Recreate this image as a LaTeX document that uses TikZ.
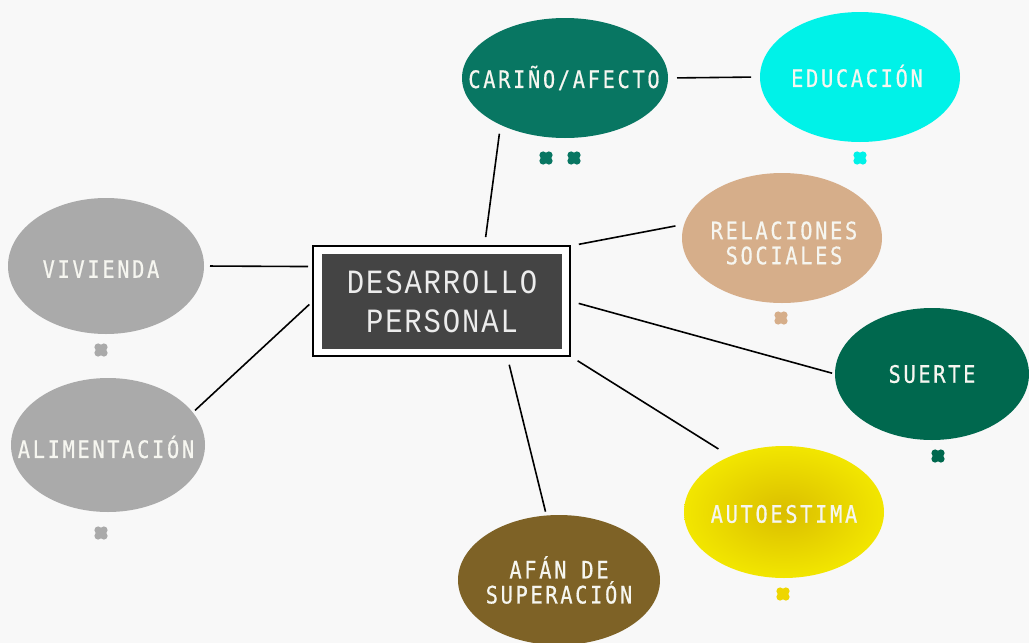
\documentclass[tikz,border=0pt]{standalone}
\usepackage{fontspec}
\usetikzlibrary{shapes.geometric}
\newfontfamily\lblfont[FakeStretch=0.85,LetterSpace=11,FakeBold=0.6]{DejaVu Sans Mono}
\newfontfamily\ctrfont[FakeStretch=0.85,LetterSpace=5.5]{Liberation Mono}
\definecolor{bg}{RGB}{248,248,248}
\definecolor{teal}{RGB}{8,118,98}
\definecolor{cyanb}{RGB}{0,242,232}
\definecolor{tan}{RGB}{214,174,138}
\definecolor{dgreen}{RGB}{0,104,78}
\definecolor{ylw}{RGB}{242,230,0}
\definecolor{ylwdark}{RGB}{218,190,0}
\definecolor{olive}{RGB}{126,98,38}
\definecolor{grayc}{RGB}{170,170,170}
\definecolor{boxc}{RGB}{68,68,68}
\definecolor{txt}{RGB}{246,246,240}
\definecolor{ylwmark}{RGB}{238,214,0}
\tikzset{
  oval/.style={ellipse, inner sep=0pt, outer sep=0pt, draw=none},
  lbl/.style={text=txt, font=\lblfont\fontsize{24}{25}\selectfont, align=center, inner sep=0pt},
  link/.style={line width=1.6pt, black, shorten <=9pt, shorten >=9pt},
  lobe/.style={circle, inner sep=0pt, outer sep=0pt, minimum size=7.4pt}
}
\newcommand{\mkclover}[4]{%
  \node[lobe, fill=#4, minimum size=10pt] (#1) at (#2,#3) {};
  \fill[#4] (#1.center) ++(2.9,2.9) circle (3.7pt);
  \fill[#4] (#1.center) ++(-2.9,2.9) circle (3.7pt);
  \fill[#4] (#1.center) ++(-2.9,-2.9) circle (3.7pt);
  \fill[#4] (#1.center) ++(2.9,-2.9) circle (3.7pt);
}
\begin{document}
\begin{tikzpicture}[x=1pt,y=-1pt]
\useasboundingbox (0,0) rectangle (1029,643);
\fill[bg] (0,0) rectangle (1029,643);

% ellipses
\node[oval, fill=teal, minimum width=206pt, minimum height=120pt] (car) at (565,78) {};
\node[oval, fill=cyanb, minimum width=200pt, minimum height=130pt] (edu) at (860,77) {};
\node[oval, fill=tan, minimum width=200pt, minimum height=130pt] (rel) at (782,238) {};
\node[oval, fill=dgreen, minimum width=194pt, minimum height=132pt] (sue) at (932,374) {};
\node[oval, inner color=ylwdark, outer color=ylw, minimum width=200pt, minimum height=132pt] (aut) at (784,512) {};
\node[oval, fill=olive, minimum width=202pt, minimum height=130pt] (afa) at (559,580) {};
\node[oval, fill=grayc, minimum width=196pt, minimum height=136pt] (viv) at (106,266) {};
\node[oval, fill=grayc, minimum width=194pt, minimum height=134pt] (ali) at (108,445) {};

% labels
\node[lbl] (carT) at (564,78) {CARIÑO/AFECTO};
\node[lbl] (eduT) at (857,76) {EDUCACIÓN};
\node[lbl] (relT) at (784,243) {RELACIONES\\SOCIALES};
\node[lbl] (sueT) at (932,374) {SUERTE};
\node[lbl] (autT) at (784,514) {AUTOESTIMA};
\node[lbl] (afaT) at (559,580) {AFÁN DE\\SUPERACIÓN};
\node[lbl] (vivT) at (101,269) {VIVIENDA};
\node[lbl] (aliT) at (106,447) {ALIMENTACIÓN};

% central box
\node[draw=black, line width=2.2pt, fill=white, minimum width=257pt, minimum height=110pt, inner sep=0pt, outer sep=0pt] (box) at (441.5,301) {};
\node[fill=boxc, minimum width=240pt, minimum height=95pt, inner sep=0pt, text={rgb,255:red,236;green,236;blue,236}, font=\ctrfont\fontsize{34}{39}\selectfont, align=center] (boxT) at (442,301.5) {DESARROLLO\\PERSONAL};

% connectors
\draw[link] (box.52.3) -- (car.-144.3);
\draw[link] (car.east) -- (edu.west);
\draw[link] (box.north east) -- (rel.172.4);
\draw[link, shorten >=3pt] (box.east) -- (sue.west);
\draw[link, shorten >=14pt] (box.south east) -- (aut.134.6);
\draw[link, shorten >=4pt] (box.-40) -- (afa.101.5);
\draw[link, shorten <=5pt, shorten >=6pt] (box.165.2) -- (viv.east);
\draw[link, shorten <=5pt, shorten >=3pt] (box.west) -- (ali.21.7);

% clover marks
\mkclover{m1}{546}{158}{teal}
\mkclover{m2}{574}{158}{teal}
\mkclover{m3}{860}{158}{cyanb}
\mkclover{m4}{781}{318}{tan}
\mkclover{m5}{938}{456}{dgreen}
\mkclover{m6}{783}{594}{ylwmark}
\mkclover{m7}{101}{350}{grayc}
\mkclover{m8}{101}{533}{grayc}
\end{tikzpicture}
\end{document}
